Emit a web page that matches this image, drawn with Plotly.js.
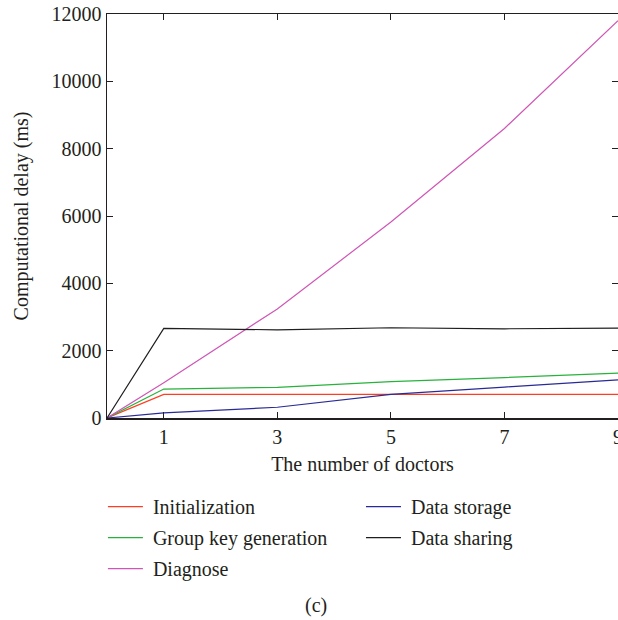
<!DOCTYPE html>
<html>
<head>
<meta charset="utf-8">
<script src="https://cdn.plot.ly/plotly-3.0.1.min.js"></script>
<style>html,body{margin:0;padding:0;background:#fff;}#chart{width:618px;height:620px;}</style>
</head>
<body>
<div id="chart"></div>
<script>
const doctors = [0, 1, 3, 5, 7, 9];
const initialization = [0, 700, 700, 700, 700, 700];
const groupKeyGeneration = [0, 860, 910, 1080, 1200, 1330];
const diagnose = [0, 1050, 3240, 5820, 8600, 11800];
const dataStorage = [0, 150, 320, 700, 920, 1130];
const dataSharing = [0, 2660, 2620, 2680, 2650, 2670];
const xTicks = [1, 3, 5, 7, 9];
const yTicks = [0, 2000, 4000, 6000, 8000, 10000, 12000];
const yTickText = ['0', '2000', '4000', '6000', '8000', '10000', '12000'];

const font = "'Liberation Serif', 'DejaVu Serif', serif";
function tr(name, y, color, legend) {
  return {x: doctors, y: y, name: '\u00a0' + name, type: 'scatter', mode: 'lines',
    line: {color: color, width: 1.2}, legend: legend, legendgroup: name};
}
const data = [
  tr('Initialization', initialization, '#ff3d22', 'legend'),
  tr('Group key generation', groupKeyGeneration, '#27b23c', 'legend'),
  tr('Diagnose', diagnose, '#cf56b6', 'legend'),
  tr('Data storage', dataStorage, '#2a2a96', 'legend2'),
  tr('Data sharing', dataSharing, '#1e1e1e', 'legend2')
];
const legendBase = {orientation: 'v', xanchor: 'left', y: -0.171, yanchor: 'top',
  traceorder: 'grouped', font: {size: 20}, tracegroupgap: 2, itemwidth: 35,
  bgcolor: 'rgba(0,0,0,0)'};
const layout = {
  width: 618, height: 620,
  margin: {l: 107, r: 0, t: 14, b: 202, autoexpand: false},
  paper_bgcolor: '#fff', plot_bgcolor: '#fff',
  font: {family: font, size: 20, color: '#231f20'},
  showlegend: true,
  xaxis: {range: [0, 9], tickvals: xTicks, ticks: 'inside', ticklen: 6, tickcolor: '#231f20',
    ticklabeloverflow: 'allow', automargin: false,
    showline: true, linecolor: '#231f20', linewidth: 1.5, mirror: 'ticks', showgrid: false, zeroline: false,
    title: {text: 'The number of doctors', standoff: 10, font: {size: 20}}},
  yaxis: {range: [0, 12000], tickvals: yTicks, ticktext: yTickText, ticks: 'inside', ticklen: 6, tickcolor: '#231f20',
    automargin: false,
    showline: true, linecolor: '#231f20', linewidth: 1.5, mirror: 'ticks', showgrid: false, zeroline: false,
    title: {text: 'Computational delay (ms)', standoff: 17, font: {size: 20}}},
  legend: Object.assign({}, legendBase, {x: -0.008}),
  legend2: Object.assign({}, legendBase, {x: 0.497}),
  annotations: [{text: '(c)', xref: 'paper', yref: 'paper', x: 0.409, y: -0.498,
    showarrow: false, font: {size: 20}}]
};
Plotly.newPlot('chart', data, layout, {displayModeBar: false, staticPlot: true});
</script>
</body>
</html>
